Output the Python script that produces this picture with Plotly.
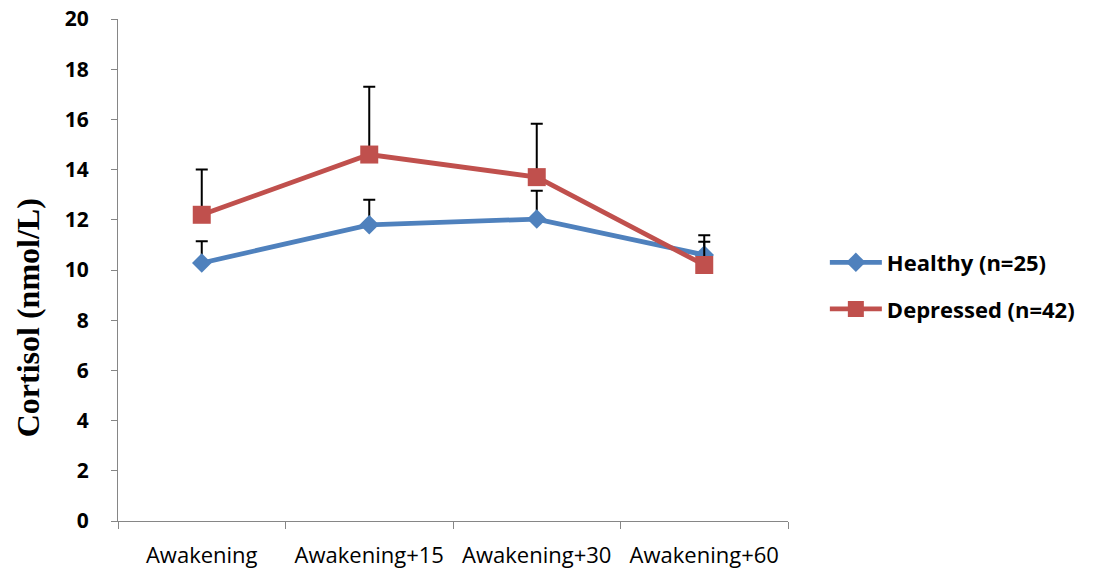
import plotly.graph_objects as go

# Salivary cortisol awakening response by group
timepoints = ["Awakening", "Awakening+15", "Awakening+30", "Awakening+60"]

healthy_mean = [10.28, 11.8, 12.03, 10.6]
healthy_err = [0.87, 1.0, 1.13, 0.78]

depressed_mean = [12.2, 14.6, 13.7, 10.2]
depressed_err = [1.8, 2.7, 2.13, 0.93]

y_ticks = [0, 2, 4, 6, 8, 10, 12, 14, 16, 18, 20]
y_title = "Cortisol (nmol/L)"

BLUE = "#4F81BD"
RED = "#C0504D"
AXIS = "#868686"

fig = go.Figure()

fig.add_trace(go.Scatter(
    x=timepoints, y=healthy_mean, name="Healthy (n=25)",
    mode="lines+markers",
    line=dict(color=BLUE, width=4.8),
    marker=dict(symbol="diamond", size=15, color=BLUE),
    error_y=dict(type="data", symmetric=False, array=healthy_err,
                 arrayminus=[0] * len(healthy_err),
                 color="black", thickness=2, width=6),
    legendgroup="h",
))

fig.add_trace(go.Scatter(
    x=timepoints, y=depressed_mean, name="Depressed (n=42)",
    mode="lines+markers",
    line=dict(color=RED, width=4.8),
    marker=dict(symbol="square", size=18, color=RED),
    error_y=dict(type="data", symmetric=False, array=depressed_err,
                 arrayminus=[0] * len(depressed_err),
                 color="black", thickness=2, width=6),
    legendgroup="d",
))

# vertical axis title, placed a little below the plot's middle
fig.add_annotation(
    text=y_title, textangle=-90, showarrow=False,
    xref="paper", yref="paper", x=-0.135, y=0.405,
    xanchor="center", yanchor="middle",
    font=dict(family="Liberation Serif", size=32, color="black", weight="bold"),
)

fig.update_layout(
    width=1095, height=576,
    margin=dict(l=118, r=307, t=19, b=55, autoexpand=False),
    plot_bgcolor="white", paper_bgcolor="white",
    showlegend=True,
    legend=dict(
        x=1.055, y=0.468, xanchor="left", yanchor="middle",
        font=dict(family="Open Sans", size=22, color="black", weight="bold"),
        tracegroupgap=15, itemwidth=52,
        bgcolor="rgba(0,0,0,0)",
    ),
    xaxis=dict(
        type="category", tickson="boundaries",
        ticks="outside", ticklen=7, tickcolor=AXIS, tickwidth=1,
        showline=True, linecolor=AXIS, linewidth=1,
        showgrid=False, zeroline=False, automargin=False,
        tickfont=dict(family="Open Sans", size=22, color="black"),
        ticklabelstandoff=15,
        range=[-0.5, 3.5],
    ),
    yaxis=dict(
        range=[0, 20], tickvals=y_ticks,
        ticks="outside", ticklen=6, tickcolor=AXIS, tickwidth=1,
        showline=True, linecolor=AXIS, linewidth=1,
        showgrid=False, zeroline=False, automargin=False,
        tickfont=dict(family="Open Sans", size=21, color="black", weight="bold"),
        ticklabelstandoff=18,
    ),
)

fig.write_html("out.html")
